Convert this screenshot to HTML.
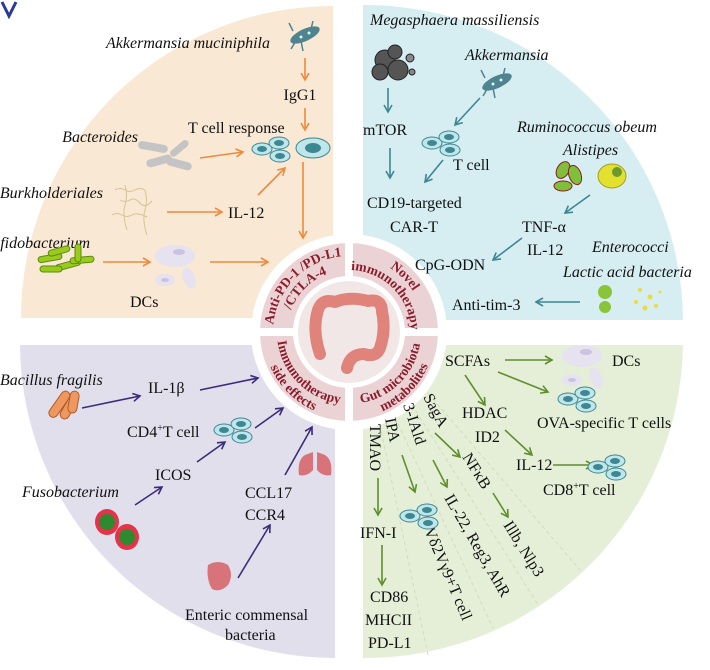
<!DOCTYPE html>
<html><head><meta charset="utf-8"><style>
html,body{margin:0;padding:0;background:#fff}
svg{display:block}
svg text{font-family:"Liberation Serif","Times New Roman",serif;font-size:16px;fill:#111}
svg text.i{font-style:italic}
svg text.p{font-family:"Liberation Serif",serif;font-weight:bold;font-size:13.5px;fill:#8b1c2b}
</style></head><body>
<svg width="710" height="670" viewBox="0 0 710 670" xmlns="http://www.w3.org/2000/svg" font-family="Liberation Serif, serif">
<defs>
<marker id="ao" markerWidth="10" markerHeight="10" refX="8" refY="5" orient="auto" markerUnits="userSpaceOnUse"><path d="M1,1 L8,5 L1,9" fill="none" stroke="#ee8a3e" stroke-width="1.6"/></marker>
<marker id="at" markerWidth="10" markerHeight="10" refX="8" refY="5" orient="auto" markerUnits="userSpaceOnUse"><path d="M1,1 L8,5 L1,9" fill="none" stroke="#3d8792" stroke-width="1.6"/></marker>
<marker id="ap" markerWidth="10" markerHeight="10" refX="8" refY="5" orient="auto" markerUnits="userSpaceOnUse"><path d="M1,1 L8,5 L1,9" fill="none" stroke="#3a2c78" stroke-width="1.6"/></marker>
<marker id="ag" markerWidth="10" markerHeight="10" refX="8" refY="5" orient="auto" markerUnits="userSpaceOnUse"><path d="M1,1 L8,5 L1,9" fill="none" stroke="#5f8f2c" stroke-width="1.6"/></marker>
<path id="tlO" d="M273,332 A76,76 0 0 1 349,256"/>
<path id="tlI" d="M287,332 A62,62 0 0 1 349,270"/>
<path id="trO" d="M349,256 A76,76 0 0 1 425,332"/>
<path id="trI" d="M349,270 A62,62 0 0 1 411,332"/>
<path id="blI" d="M277,332 A72,72 0 0 0 349,404"/>
<path id="blO" d="M263,332 A86,86 0 0 0 349,418"/>
<path id="brI" d="M349,404 A72,72 0 0 0 421,332"/>
<path id="brO" d="M349,418 A86,86 0 0 0 435,332"/>
<g id="cell3"><ellipse cx="0" cy="6" rx="10" ry="6" fill="#bfe6ea" stroke="#3d8792"/><ellipse cx="0" cy="6" rx="5" ry="3" fill="#3d8792"/><ellipse cx="17" cy="0" rx="10" ry="6" fill="#bfe6ea" stroke="#3d8792"/><ellipse cx="17" cy="0" rx="5" ry="3" fill="#3d8792"/><ellipse cx="18" cy="13" rx="10" ry="6" fill="#bfe6ea" stroke="#3d8792"/><ellipse cx="18" cy="13" rx="5" ry="3" fill="#3d8792"/></g>
<g id="dc"><ellipse cx="0" cy="0" rx="20" ry="11" fill="#e6e2f0"/><ellipse cx="4" cy="-4" rx="6" ry="3" fill="#cbc2e0"/><ellipse cx="-10" cy="24" rx="10" ry="6" fill="#e6e2f0"/><ellipse cx="-10" cy="24" rx="4" ry="2" fill="#cbc2e0"/><ellipse cx="14" cy="22" rx="6" ry="11" fill="#e6e2f0" transform="rotate(-20 14 22)"/></g>
<g id="bug"><ellipse cx="0" cy="0" rx="16" ry="6" fill="#4f8390" transform="rotate(-25)"/><circle cx="-4" cy="2" r="1.5" fill="#cfe"/><circle cx="4" cy="-2" r="1.5" fill="#cfe"/><path d="M-8,4 l-6,10 M-4,6 l2,10 M-12,-4 l-4,-8 M6,-6 l2,-8" stroke="#4f8390" stroke-width="1.5"/></g>
</defs>
<path d="M333,318 L333,6 A312,312 0 0 0 21,318 Z" fill="#f8e8d4"/>
<path d="M363,320 L363,5 A318,318 0 0 1 683,320 Z" fill="#d6eef2"/>
<path d="M335,345 L20,345 A315,315 0 0 0 335,658 Z" fill="#e2dfec"/>
<path d="M363,345 L683,345 A318,318 0 0 1 363,658 Z" fill="#e5efd8"/>
<path d="M2,2 L9,16 L16,2" fill="none" stroke="#2a3a9a" stroke-width="3"/>
<circle cx="349" cy="332" r="98" fill="#fff"/>
<circle cx="349" cy="332" r="89" fill="#ebd3d5"/>
<circle cx="349" cy="332" r="56" fill="#fff"/>
<circle cx="349" cy="332" r="51" fill="#f2e7e7"/>
<rect x="345" y="241" width="8" height="36" fill="#fff"/>
<rect x="345" y="387" width="8" height="36" fill="#fff"/>
<rect x="258" y="328" width="36" height="8" fill="#fff"/>
<rect x="404" y="328" width="36" height="8" fill="#fff"/>
<path d="M320,354 Q312,330 318,310 Q322,298 335,302 Q350,296 368,301 Q382,298 382,312 Q386,330 380,348 Q376,358 364,354 Q350,354 347,368" fill="none" stroke="#e0837a" stroke-width="12" stroke-linecap="round" stroke-linejoin="round" stroke-dasharray="7 1.5"/>
<text class="p"><textPath href="#tlO" startOffset="50%" text-anchor="middle">Anti-PD-1 /PD-L1</textPath></text>
<text class="p"><textPath href="#tlI" startOffset="50%" text-anchor="middle">/CTLA-4</textPath></text>
<text class="p"><textPath href="#trO" startOffset="50%" text-anchor="middle">Novel</textPath></text>
<text class="p"><textPath href="#trI" startOffset="50%" text-anchor="middle">immunotherapy</textPath></text>
<text class="p"><textPath href="#blI" startOffset="50%" text-anchor="middle">Immunotherapy</textPath></text>
<text class="p"><textPath href="#blO" startOffset="50%" text-anchor="middle">side effects</textPath></text>
<text class="p"><textPath href="#brI" startOffset="50%" text-anchor="middle">Gut microbiota</textPath></text>
<text class="p"><textPath href="#brO" startOffset="50%" text-anchor="middle">metabolites</textPath></text>

<g stroke="#ee8a3e" stroke-width="1.6" fill="none" marker-end="url(#ao)">
<path d="M305,58 L305,80"/><path d="M305,108 L305,130"/><path d="M200,158 L243,152"/>
<path d="M167,212 L222,212"/><path d="M258,195 L285,168"/><path d="M303,162 L303,238"/>
<path d="M103,262 L150,262"/><path d="M210,262 L268,262"/></g>
<text class="i" x="270" y="48" text-anchor="end">Akkermansia muciniphila</text>
<use href="#bug" x="305" y="35"/>
<text x="300" y="100" text-anchor="middle">IgG1</text>
<text x="188" y="133">T cell response</text>
<text class="i" x="138" y="142" text-anchor="end">Bacteroides</text>
<g fill="#c4c4c4"><rect x="138" y="143" width="30" height="8" rx="4" transform="rotate(10 153 147)"/><rect x="168" y="145" width="22" height="7" rx="3.5" transform="rotate(-40 179 148)"/><rect x="146" y="157" width="26" height="8" rx="4" transform="rotate(-15 159 161)"/><rect x="166" y="160" width="26" height="8" rx="4" transform="rotate(15 179 164)"/></g>
<use href="#cell3" x="262" y="143"/>
<ellipse cx="313" cy="148" rx="17" ry="10" fill="#bfe6ea" stroke="#3d8792"/><ellipse cx="313" cy="148" rx="8" ry="5" fill="#3d8792"/>
<text class="i" x="103" y="198" text-anchor="end">Burkholderiales</text>
<path d="M115,190 q5,-3 10,0 t10,0 t10,0 M120,200 q5,3 10,0 t10,3 t12,-2 M112,215 q5,-3 10,0 t10,0 t15,2 M125,185 q3,10 0,20 t2,25 M145,190 q3,10 0,20 t2,25" stroke="#d6c592" fill="none"/>
<text x="228" y="218">IL-12</text>
<text class="i" x="90" y="248" text-anchor="end">Bifidobacterium</text>
<g fill="#9acb1c" stroke="#5b8a10" stroke-width="1"><rect x="38" y="255" width="24" height="6" rx="3" transform="rotate(-10 50 258)"/><rect x="55" y="262" width="26" height="6" rx="3" transform="rotate(-15 68 265)"/><rect x="48" y="248" width="22" height="6" rx="3" transform="rotate(-15 59 251)"/><rect x="70" y="257" width="24" height="6" rx="3" transform="rotate(-5 82 260)"/><rect x="75" y="244" width="6" height="18" rx="3"/><rect x="40" y="266" width="22" height="6" rx="3"/></g>
<use href="#dc" x="175" y="256"/>
<text x="130" y="307">DCs</text>

<g stroke="#3d8792" stroke-width="1.6" fill="none" marker-end="url(#at)">
<path d="M388,88 L388,112"/><path d="M390,148 L390,178"/><path d="M480,98 L455,125"/>
<path d="M443,160 L425,182"/><path d="M590,195 L565,213"/><path d="M522,238 L493,260"/><path d="M580,302 L536,302"/></g>
<text class="i" x="370" y="25">Megasphaera massiliensis</text>
<g fill="#555" stroke="#222"><circle cx="385" cy="60" r="10"/><circle cx="398" cy="70" r="10"/><circle cx="380" cy="72" r="8"/><circle cx="395" cy="52" r="7"/><circle cx="410" cy="58" r="4" fill="#888"/><circle cx="412" cy="72" r="3" fill="#888"/></g>
<text x="363" y="135">mTOR</text>
<text class="i" x="465" y="60">Akkermansia</text>
<use href="#bug" x="497" y="82"/>
<use href="#cell3" x="432" y="137"/>
<text x="453" y="170">T cell</text>
<text x="367" y="208">CD19-targeted</text>
<text x="390" y="232">CAR-T</text>
<text class="i" x="517" y="132">Ruminococcus obeum</text>
<text class="i" x="563" y="155">Alistipes</text>
<g stroke="#8a1f1f" fill="#7fbf3c"><ellipse cx="563" cy="170" rx="6" ry="9" transform="rotate(30 563 170)"/><ellipse cx="575" cy="175" rx="6" ry="10" transform="rotate(-20 575 175)"/><ellipse cx="563" cy="186" rx="9" ry="5"/></g>
<ellipse cx="612" cy="176" rx="14" ry="12" fill="#e4e030" stroke="#a0a020"/><circle cx="617" cy="172" r="5" fill="#6a9a30"/>
<text x="522" y="232">TNF-α</text>
<text x="527" y="255">IL-12</text>
<text x="415" y="270">CpG-ODN</text>
<text class="i" x="592" y="252">Enterococci</text>
<text class="i" x="563" y="277">Lactic acid bacteria</text>
<g fill="#8ac43a"><circle cx="605" cy="292" r="7"/><circle cx="605" cy="307" r="6"/></g>
<g fill="#ecdc3a"><circle cx="640" cy="290" r="2"/><circle cx="650" cy="297" r="2.5"/><circle cx="636" cy="302" r="2"/><circle cx="656" cy="306" r="2"/><circle cx="645" cy="308" r="2.5"/><circle cx="660" cy="292" r="1.5"/></g>
<text x="452" y="310">Anti-tim-3</text>

<g stroke="#3a2c78" stroke-width="1.6" fill="none" marker-end="url(#ap)">
<path d="M82,408 L140,396"/><path d="M200,390 L258,378"/><path d="M255,428 L283,408"/>
<path d="M197,462 L225,442"/><path d="M135,505 L162,487"/><path d="M285,475 L312,427"/><path d="M238,578 L270,525"/></g>
<text class="i" x="0" y="385">Bacillus fragilis</text>
<g fill="#ee9860" stroke="#b05a2a"><rect x="44" y="400" width="30" height="9" rx="4.5" transform="rotate(-55 59 404)"/><rect x="55" y="402" width="28" height="9" rx="4.5" transform="rotate(-60 69 406)"/><rect x="62" y="398" width="22" height="9" rx="4.5" transform="rotate(-80 73 402)"/></g>
<text x="148" y="393">IL-1β</text>
<text x="127" y="437">CD4<tspan font-size="10" dy="-6">+</tspan><tspan dy="6">T cell</tspan></text>
<use href="#cell3" x="224" y="424"/>
<text x="155" y="480">ICOS</text>
<text class="i" x="22" y="497">Fusobacterium</text>
<ellipse cx="107" cy="522" rx="12" ry="13" fill="#e6324a"/><circle cx="107" cy="522" r="8" fill="#2e8a2e"/>
<ellipse cx="127" cy="537" rx="12" ry="13" fill="#e6324a"/><circle cx="127" cy="537" r="8" fill="#2e8a2e"/>
<text x="245" y="498">CCL17</text>
<text x="245" y="520">CCR4</text>
<path d="M305,455 q-8,5 -6,20 q8,2 14,-5 l0,-18 z M325,455 q8,5 6,20 q-8,2 -14,-5 l0,-18 z" fill="#d8737a"/>
<path d="M208,565 q10,-6 20,0 q6,10 0,20 q-8,8 -16,4 q-6,-10 -4,-24 z" fill="#d8737a"/>
<text x="185" y="620">Enteric commensal</text>
<text x="225" y="640">bacteria</text>

<g stroke="#d2dcba" stroke-width="1" stroke-dasharray="4 3">
<path d="M380,425 L428,655"/><path d="M395,417 L493,628"/><path d="M412,405 L537,603"/><path d="M428,393 L580,570"/></g>
<g stroke="#5f8f2c" stroke-width="1.6" fill="none" marker-end="url(#ag)">
<path d="M505,360 L552,360"/><path d="M498,372 L548,392"/><path d="M465,375 L485,405"/><path d="M505,430 L532,455"/>
<path d="M553,465 L593,465"/><path d="M378,478 L378,515"/><path d="M382,545 L382,585"/>
<path d="M402,455 L415,492"/><path d="M433,460 L447,487"/><path d="M435,433 L460,457"/><path d="M493,493 L508,517"/></g>
<text x="445" y="366">SCFAs</text>
<use href="#dc" x="582" y="356"/>
<text x="612" y="366">DCs</text>
<use href="#cell3" x="568" y="393"/>
<text x="462" y="418">HDAC</text>
<text x="475" y="442">ID2</text>
<text x="537" y="428">OVA-specific T cells</text>
<text x="516" y="470">IL-12</text>
<use href="#cell3" x="598" y="461"/>
<text x="543" y="495">CD8<tspan font-size="10" dy="-6">+</tspan><tspan dy="6">T cell</tspan></text>
<text transform="translate(370,424) rotate(90)">TMAO</text>
<text transform="translate(385,419) rotate(78)">IPA</text>
<text transform="translate(403,405) rotate(72)">3-IAld</text>
<text transform="translate(423,397) rotate(62)">SagA</text>
<text transform="translate(462,457) rotate(58)">NFκB</text>
<text transform="translate(503,525) rotate(58)">Illb, Nlp3</text>
<text transform="translate(444,498) rotate(60)">IL-22, Reg3, AhR</text>
<text transform="translate(424,530) rotate(67)">Vδ2Vγ9+T cell</text>
<use href="#cell3" x="410" y="510"/>
<text x="360" y="538">IFN-I</text>
<text x="370" y="602">CD86</text>
<text x="365" y="625">MHCII</text>
<text x="368" y="648">PD-L1</text>
</svg>
</body></html>
